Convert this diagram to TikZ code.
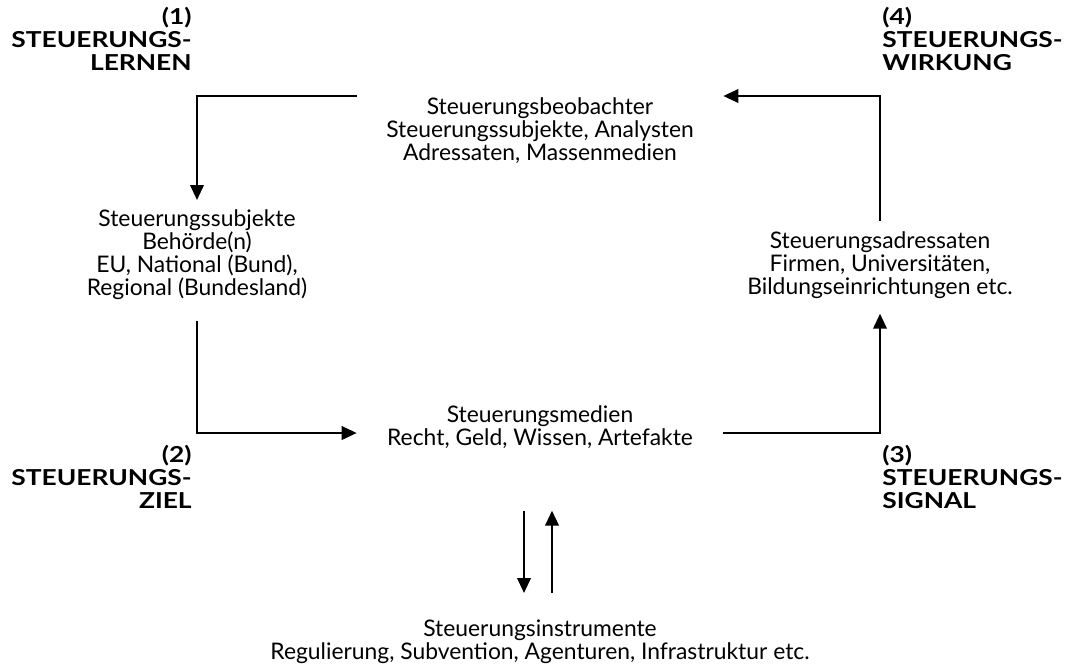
\documentclass[tikz,border=0pt]{standalone}
\usepackage{fontspec}
\setmainfont{Lato}
\newfontfamily\lblfont{Lato}[FakeStretch=1.2]
\usetikzlibrary{arrows, arrows.meta, calc, positioning}

\begin{document}
\begin{tikzpicture}[x=0.02cm, y=-0.02cm]
        \useasboundingbox (0, 0) rectangle (1067, 667);

        \tikzstyle{txt} = [align=center, inner sep=0pt, font=\fontsize{13}{13.1}\selectfont];
        \tikzstyle{lbl} = [inner sep=0pt, font=\lblfont\fontsize{12.5}{13.1}\selectfont\bfseries];
        \tikzstyle{conn} = [draw, line width=1.3pt, -{Triangle[length=0.3cm, width=0.27cm]}];

        \coordinate (C1) at (197,  96);
        \coordinate (C2) at (197, 433);
        \coordinate (C3) at (880, 433);
        \coordinate (C4) at (880,  96);

        \node [txt, minimum width=7.32cm, anchor=north] (obs) at (540, 97)
            {Steuerungsbeobachter\\Steuerungssubjekte, Analysten\\Adressaten, Massenmedien};
        \node [txt, anchor=north] (subj) at (197, 209)
            {Steuerungssubjekte\\Behörde(n)\\EU, National (Bund),\\Regional (Bundesland)};
        \node [txt, anchor=north] (adr) at (880, 231)
            {Steuerungsadressaten\\Firmen, Universitäten,\\Bildungseinrichtungen etc.};
        \node [txt, minimum width=7.32cm, anchor=north] (med) at (540, 405)
            {Steuerungsmedien\\Recht, Geld, Wissen, Artefakte};
        \node [txt, anchor=north] (instr) at (540, 619)
            {Steuerungsinstrumente\\Regulierung, Subvention, Agenturen, Infrastruktur etc.};

        \node [lbl, align=right, anchor=south east] (l1) at ($(C1) + (-5, -25)$)
            {(1)\\STEUERUNGS-\\LERNEN};
        \node [lbl, align=left, anchor=south west] (l4) at ($(C4) + (2, -25)$)
            {(4)\\STEUERUNGS-\\WIRKUNG};
        \node [lbl, align=right, anchor=north east] (l2) at ($(C2) + (-5, 12)$)
            {(2)\\STEUERUNGS-\\ZIEL};
        \node [lbl, align=left, anchor=north west] (l3) at ($(C3) + (2, 12)$)
            {(3)\\STEUERUNGS-\\SIGNAL};

        \draw [conn, shorten >=0.18cm] (C1 -| obs.west) -- (C1) -- (subj.north);
        \draw [conn, shorten <=0.42cm] (subj.south) -- (C2) -- (C2 -| med.west);
        \draw [conn, shorten >=0.3cm] (C3 -| med.east) -- (C3) -- (adr.south);
        \draw [conn, shorten <=0.2cm] (adr.north) -- (C4) -- (C4 -| obs.east);

        \draw [conn] ($(med.south) + (-16, 62)$) -- ($(instr.north) + (-16, -26)$);
        \draw [conn] ($(instr.north) + (12, -26)$) -- ($(med.south) + (12, 62)$);
    \end{tikzpicture}
\end{document}
